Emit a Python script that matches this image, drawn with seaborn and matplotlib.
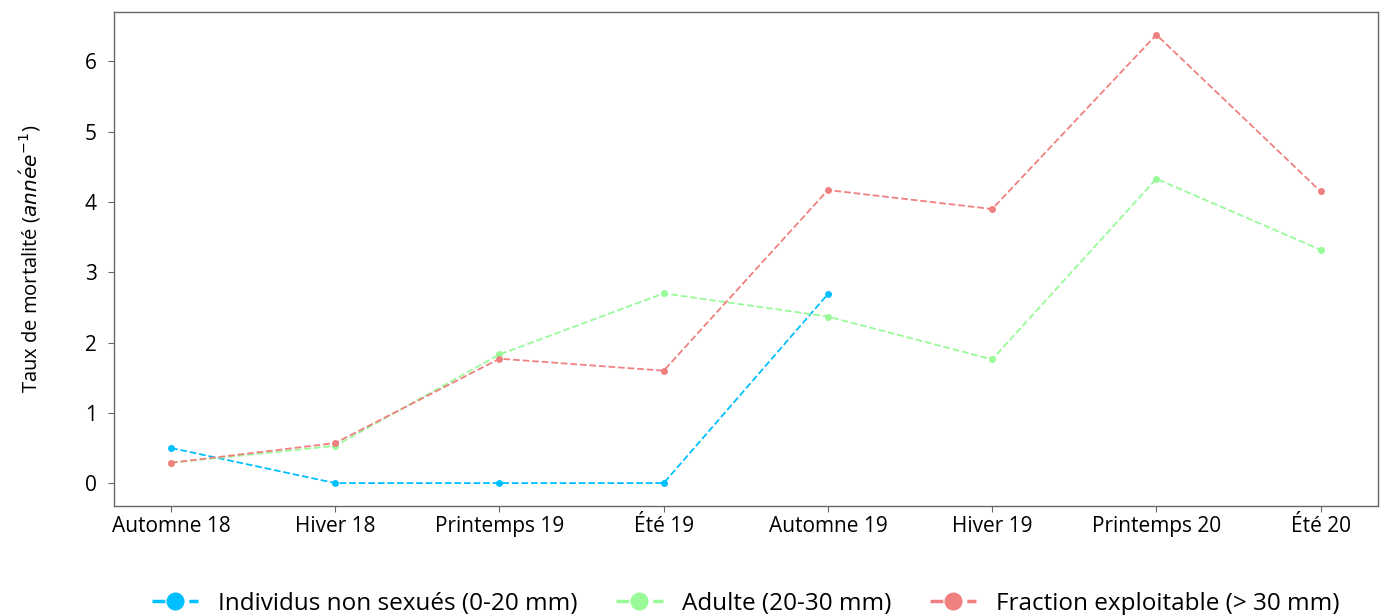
import pandas as pd
import numpy as np
import matplotlib.pyplot as plt
import seaborn as sns

# saisons et taux de mortalité
saisons = ['Automne 18', 'Hiver 18', 'Printemps 19', 'Été 19',
           'Automne 19', 'Hiver 19', 'Printemps 20', 'Été 20']
non_sexues = [0.50, 0.0, 0.0, 0.0, 2.69, np.nan, np.nan, np.nan]
adulte = [0.29, 0.53, 1.83, 2.70, 2.37, 1.76, 4.33, 3.32]
exploitable = [0.29, 0.57, 1.77, 1.60, 4.17, 3.90, 6.38, 4.15]

groupes = ['Individus non sexués (0-20 mm)', 'Adulte (20-30 mm)',
           'Fraction exploitable (> 30 mm)']
couleurs = ['#00BFFF', '#98FB98', '#F08080']


def set_font():
    sns.set_style('white')
    plt.rcParams['font.family'] = ['Open Sans', 'DejaVu Sans']
    plt.rcParams['mathtext.fontset'] = 'dejavusans'
    plt.rcParams['text.color'] = 'black'
    plt.rcParams['axes.labelcolor'] = 'black'
    plt.rcParams['xtick.color'] = 'black'
    plt.rcParams['ytick.color'] = 'black'


def plot_mortalite(output_path):
    df = pd.DataFrame({
        'saison': saisons * 3,
        'taux': non_sexues + adulte + exploitable,
        'groupe': np.repeat(groupes, len(saisons)),
    })

    fig, ax = plt.subplots(figsize=(13.85, 6.15), dpi=100)
    for g, c in zip(groupes, couleurs):
        sub = df[df['groupe'] == g].dropna()
        sns.lineplot(data=sub, x='saison', y='taux', ax=ax, color=c,
                     linestyle='--', linewidth=1.3, marker='o', markersize=5,
                     markeredgewidth=0, label=g, sort=False)

    ax.set_xlabel('')
    ax.set_ylabel('Taux de mortalité ($ann\\acute{e}e^{-1}$)', fontsize=14.5, labelpad=30)
    ax.tick_params(axis='both', labelsize=15, length=4, color='#666666',
                   bottom=True, left=True)
    ax.tick_params(axis='y', pad=8)
    for s in ax.spines.values():
        s.set_color('#666666')
        s.set_linewidth(1.0)

    leg = ax.legend(loc='upper center', bbox_to_anchor=(0.5, -0.13), ncol=3,
                    frameon=False, fontsize=17.5, markerscale=2.6,
                    handlelength=1.9, handletextpad=0.8, columnspacing=1.6)
    for h in leg.get_lines():
        h.set_linewidth(2.5)

    fig.subplots_adjust(left=0.082, right=0.995, top=0.98, bottom=0.178)
    fig.savefig(output_path)
    plt.close(fig)


if __name__ == '__main__':
    set_font()
    plot_mortalite('out.png')
